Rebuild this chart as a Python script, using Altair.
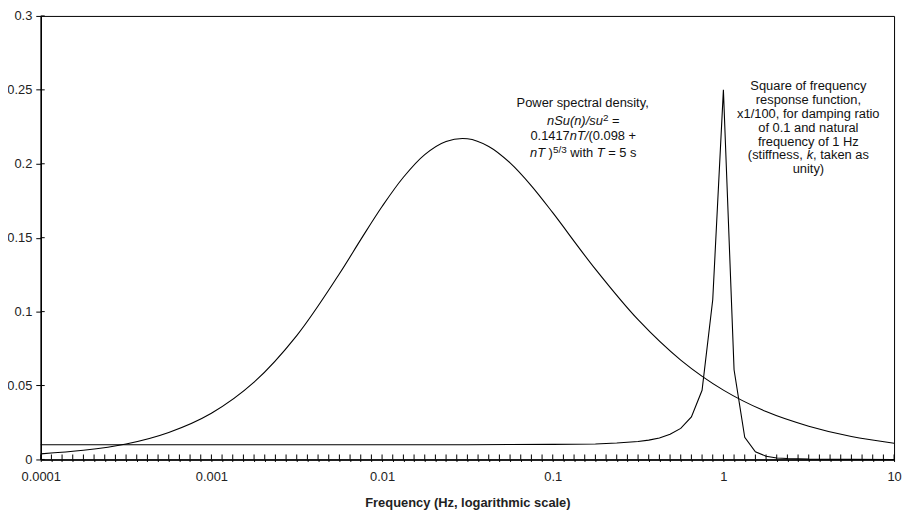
import altair as alt
import pandas as pd

# ---------------- data ----------------
# x positions are the chart's category ticks: 16 per decade, frequency = 10**(-4 + i/16)
psd_idx = [0, 4, 8, 12, 16, 20, 24, 28, 30, 32, 34, 36, 38, 40, 42, 44, 46, 48, 52, 56, 60,
           64, 68, 72, 76, 80]
psd_val = [0.0038, 0.0062, 0.0105, 0.0183, 0.0313, 0.0523, 0.0838, 0.1256, 0.1487, 0.1711,
           0.1909, 0.2062, 0.2151, 0.2169, 0.2117, 0.2006, 0.1851, 0.1669, 0.1287, 0.0945,
           0.0672, 0.0469, 0.0324, 0.0225, 0.0155, 0.0110]

rf_idx = [0, 16, 32, 40, 44, 48, 50, 52, 54, 56, 57, 58, 59, 60, 61, 62, 63, 64, 65, 66,
          67, 68, 69, 70, 72, 76, 80]
rf_val = [0.0100, 0.0100, 0.0100, 0.0100, 0.0101, 0.0102, 0.0103, 0.0105, 0.0111, 0.0122,
          0.0131, 0.0145, 0.0170, 0.0210, 0.0288, 0.0468, 0.108, 0.250, 0.0607, 0.0150,
          0.0052, 0.0022, 0.0010, 0.0006, 0.0002, 0.00005, 0.00001]

y_ticks = [0, 0.05, 0.1, 0.15, 0.2, 0.25, 0.3]
n_ticks = 81
x_title = "Frequency (Hz, logarithmic scale)"

# annotation lines: list of pieces (text, style) ; n = normal, i = italic, s = superscript
psd_lines = [
    [("Power spectral density,", "n")],
    [("nSu(n)/su", "i"), ("2", "s"), (" =", "n")],
    [("0.1417", "n"), ("nT/", "i"), ("(0.098 +", "n")],
    [("nT", "i"), (" )", "n"), ("5/3", "s"), (" with ", "n"), ("T", "i"), (" = 5 s", "n")],
]
rf_lines = [
    [("Square of frequency", "n")],
    [("response function,", "n")],
    [("x1/100, for damping ratio", "n")],
    [("of 0.1 and natural", "n")],
    [("frequency of 1 Hz", "n")],
    [("(stiffness, ", "n"), ("k", "i"), (", taken as", "n")],
    [("unity)", "n")],
]

# ---------------- layout ----------------
W, H = 860, 447
DECADES = 5
PXD = W / DECADES
FONT = "Liberation Sans, Arial, Helvetica, sans-serif"
FS = 13
SUP = 10

def freq_of(i):
    return 10 ** (-4 + i / 16)

df_psd = pd.DataFrame({"freq": [freq_of(i) for i in psd_idx], "value": psd_val})
df_rf = pd.DataFrame({"freq": [freq_of(i) for i in rf_idx], "value": rf_val})
df_xt = pd.DataFrame({"freq": [freq_of(i) for i in range(n_ticks)]})
df_yt = pd.DataFrame({"value": y_ticks})

# Arial / Liberation Sans advance widths (per 1000 em)
AW = {' ': 278, '(': 333, ')': 333, '+': 584, ',': 278, '.': 278, '/': 278, '=': 584,
      'H': 722, 'P': 667, 'S': 667, 'T': 611, 'x': 500,
      'a': 556, 'b': 556, 'c': 500, 'd': 556, 'e': 556, 'f': 278, 'g': 556, 'h': 556,
      'i': 222, 'k': 500, 'l': 222, 'm': 833, 'n': 556, 'o': 556, 'p': 556, 'q': 556,
      'r': 333, 's': 500, 't': 278, 'u': 556, 'v': 500, 'w': 722, 'y': 500, 'z': 500}
for d in "0123456789":
    AW[d] = 556

def tw(text, size):
    return sum(AW.get(c, 556) for c in text) * size / 1000

def layout(lines, center_freq, baselines):
    rows = []
    for pieces, base in zip(lines, baselines):
        widths = [tw(t, SUP if s == "s" else FS) for t, s in pieces]
        off = -sum(widths) / 2
        for (t, s), w in zip(pieces, widths):
            size = SUP if s == "s" else FS
            lead = len(t) - len(t.lstrip(" "))
            start = off + lead * AW[" "] * size / 1000
            rows.append({"text": t.strip(" "), "style": s,
                         "freq": center_freq * 10 ** (start / PXD), "value": base})
            off += w
    return rows

psd_center = 0.151
rf_center = 3.15
psd_base = [0.2386, 0.2265, 0.2161, 0.2047]
rf_base = [0.2501, 0.2407, 0.2312, 0.2218, 0.2123, 0.2029, 0.1935]
df_txt = pd.DataFrame(layout(psd_lines, psd_center, psd_base) + layout(rf_lines, rf_center, rf_base))

# ---------------- chart ----------------
xscale = alt.Scale(type="log", domain=[1e-4, 10], nice=False)
yscale = alt.Scale(domain=[0, 0.3], nice=False, zero=True)

X = alt.X("freq:Q", scale=xscale,
          axis=alt.Axis(values=[freq_of(i) for i in range(n_ticks)],
                        labelExpr="abs(log(datum.value)/LN10 - round(log(datum.value)/LN10)) < 0.001 ? format(datum.value, '~g') : ''",
                        tickSize=2, labelPadding=9, labelOverlap=False, labelFlush=False,
                        title=x_title, titleFontWeight="bold", titlePadding=13))
Y = alt.Y("value:Q", scale=yscale,
          axis=alt.Axis(values=y_ticks, format="~g", tickSize=5, labelPadding=4, title=None))

psd_line = alt.Chart(df_psd).mark_line(color="black", strokeWidth=1.1, interpolate="catmull-rom").encode(x=X, y=Y)
rf_line = alt.Chart(df_rf).mark_line(color="black", strokeWidth=1.1).encode(x=X, y=Y)

xt = alt.Chart(df_xt).mark_rule(color="black", strokeWidth=1).encode(
    x=X, y=alt.datum(0), y2=alt.datum(5 * 0.3 / H))
yt = alt.Chart(df_yt).mark_rule(color="black", strokeWidth=1).encode(
    y=Y, x=alt.datum(1e-4), x2=alt.datum(1e-4 * 10 ** (4 / PXD)))

txt_common = dict(align="left", baseline="alphabetic", font=FONT, color="#111")
t_n = alt.Chart(df_txt).transform_filter("datum.style == 'n'").mark_text(
    fontSize=FS, **txt_common).encode(x=X, y=Y, text="text:N")
t_i = alt.Chart(df_txt).transform_filter("datum.style == 'i'").mark_text(
    fontSize=FS, fontStyle="italic", **txt_common).encode(x=X, y=Y, text="text:N")
t_s = alt.Chart(df_txt).transform_filter("datum.style == 's'").mark_text(
    fontSize=SUP, dy=-4, **txt_common).encode(x=X, y=Y, text="text:N")

chart = alt.layer(psd_line, rf_line, xt, yt, t_n, t_i, t_s).properties(
    width=W, height=H,
    autosize=alt.AutoSizeParams(type="none"),
    padding={"left": 33, "top": 6, "right": 8, "bottom": 56},
).configure_view(stroke="black", strokeWidth=1).configure_axis(
    grid=False, domainColor="black", domainWidth=1.5, tickColor="black", tickWidth=1,
    labelFont=FONT, labelFontSize=FS, labelColor="#222",
    titleFont=FONT, titleFontSize=FS, titleColor="#222",
)

chart.save("out.html", embed_options={"renderer": "svg", "actions": False})
